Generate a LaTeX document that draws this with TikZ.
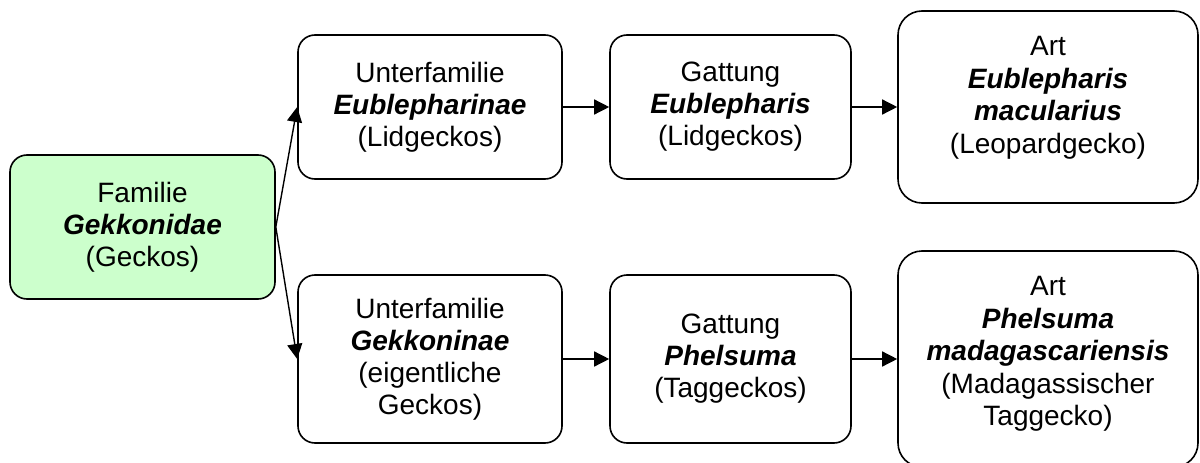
\documentclass[tikz,border=0pt]{standalone}
\usepackage{fontspec}
\setmainfont{Liberation Sans}
\usetikzlibrary{arrows.meta}
\definecolor{famgreen}{HTML}{CCFFCC}
\newcommand\taxon[1]{\textbf{\textit{#1}}}
\begin{document}
\begin{tikzpicture}[x=1pt,y=-1pt,
  box/.style={draw=black, line width=1.6pt, rounded corners=17pt, align=center,
    inner sep=0pt, font=\fontsize{28}{32}\selectfont},
  artbox/.style={box, rounded corners=24pt},
  boxtext/.style={align=center, inner sep=0pt, font=\fontsize{28}{32.5}\selectfont},
  link/.style={line width=1.4pt, -{Triangle[length=15pt,width=15pt]}},
]
\useasboundingbox (0,0) rectangle (1200,463);
\clip (0,0) rectangle (1200,463);

% family
\node[box, fill=famgreen, minimum width=265pt, minimum height=144pt] (fam) at (142.5,227)
  {Familie\\\taxon{Gekkonidae}\\(Geckos)};

% upper branch
\node[box, minimum width=264pt, minimum height=144pt] (uf1) at (430,107)
  {Unterfamilie\\\taxon{Eublepharinae}\\(Lidgeckos)};
\node[box, minimum width=241pt, minimum height=144pt] (g1) at (730.5,107)
  {Gattung\\\taxon{Eublepharis}\\(Lidgeckos)};
\node[artbox, minimum width=300pt, minimum height=192pt] (a1) at (1048,107) {};
\node[boxtext] (a1text) at ([yshift=9pt]a1.center)
  {Art\\\taxon{Eublepharis}\\\taxon{macularius}\\(Leopardgecko)};

% lower branch
\node[box, minimum width=264pt, minimum height=168pt] (uf2) at (430,359)
  {Unterfamilie\\\taxon{Gekkoninae}\\(eigentliche\\Geckos)};
\node[box, minimum width=241pt, minimum height=168pt] (g2) at (730.5,359)
  {Gattung\\\taxon{Phelsuma}\\(Taggeckos)};
\node[artbox, minimum width=300pt, minimum height=216pt] (a2) at (1048,359) {};
\node[boxtext] (a2text) at ([yshift=5pt]a2.center)
  {Art\\\taxon{Phelsuma}\\\taxon{madagascariensis}\\(Madagassischer\\Taggecko)};

% connectors
\draw[link] (fam.east) -- (uf1.west);
\draw[link] (fam.east) -- (uf2.west);
\draw[link] (uf1) -- (g1);
\draw[link] (g1) -- (a1);
\draw[link] (uf2) -- (g2);
\draw[link] (g2) -- (a2);
\end{tikzpicture}
\end{document}
